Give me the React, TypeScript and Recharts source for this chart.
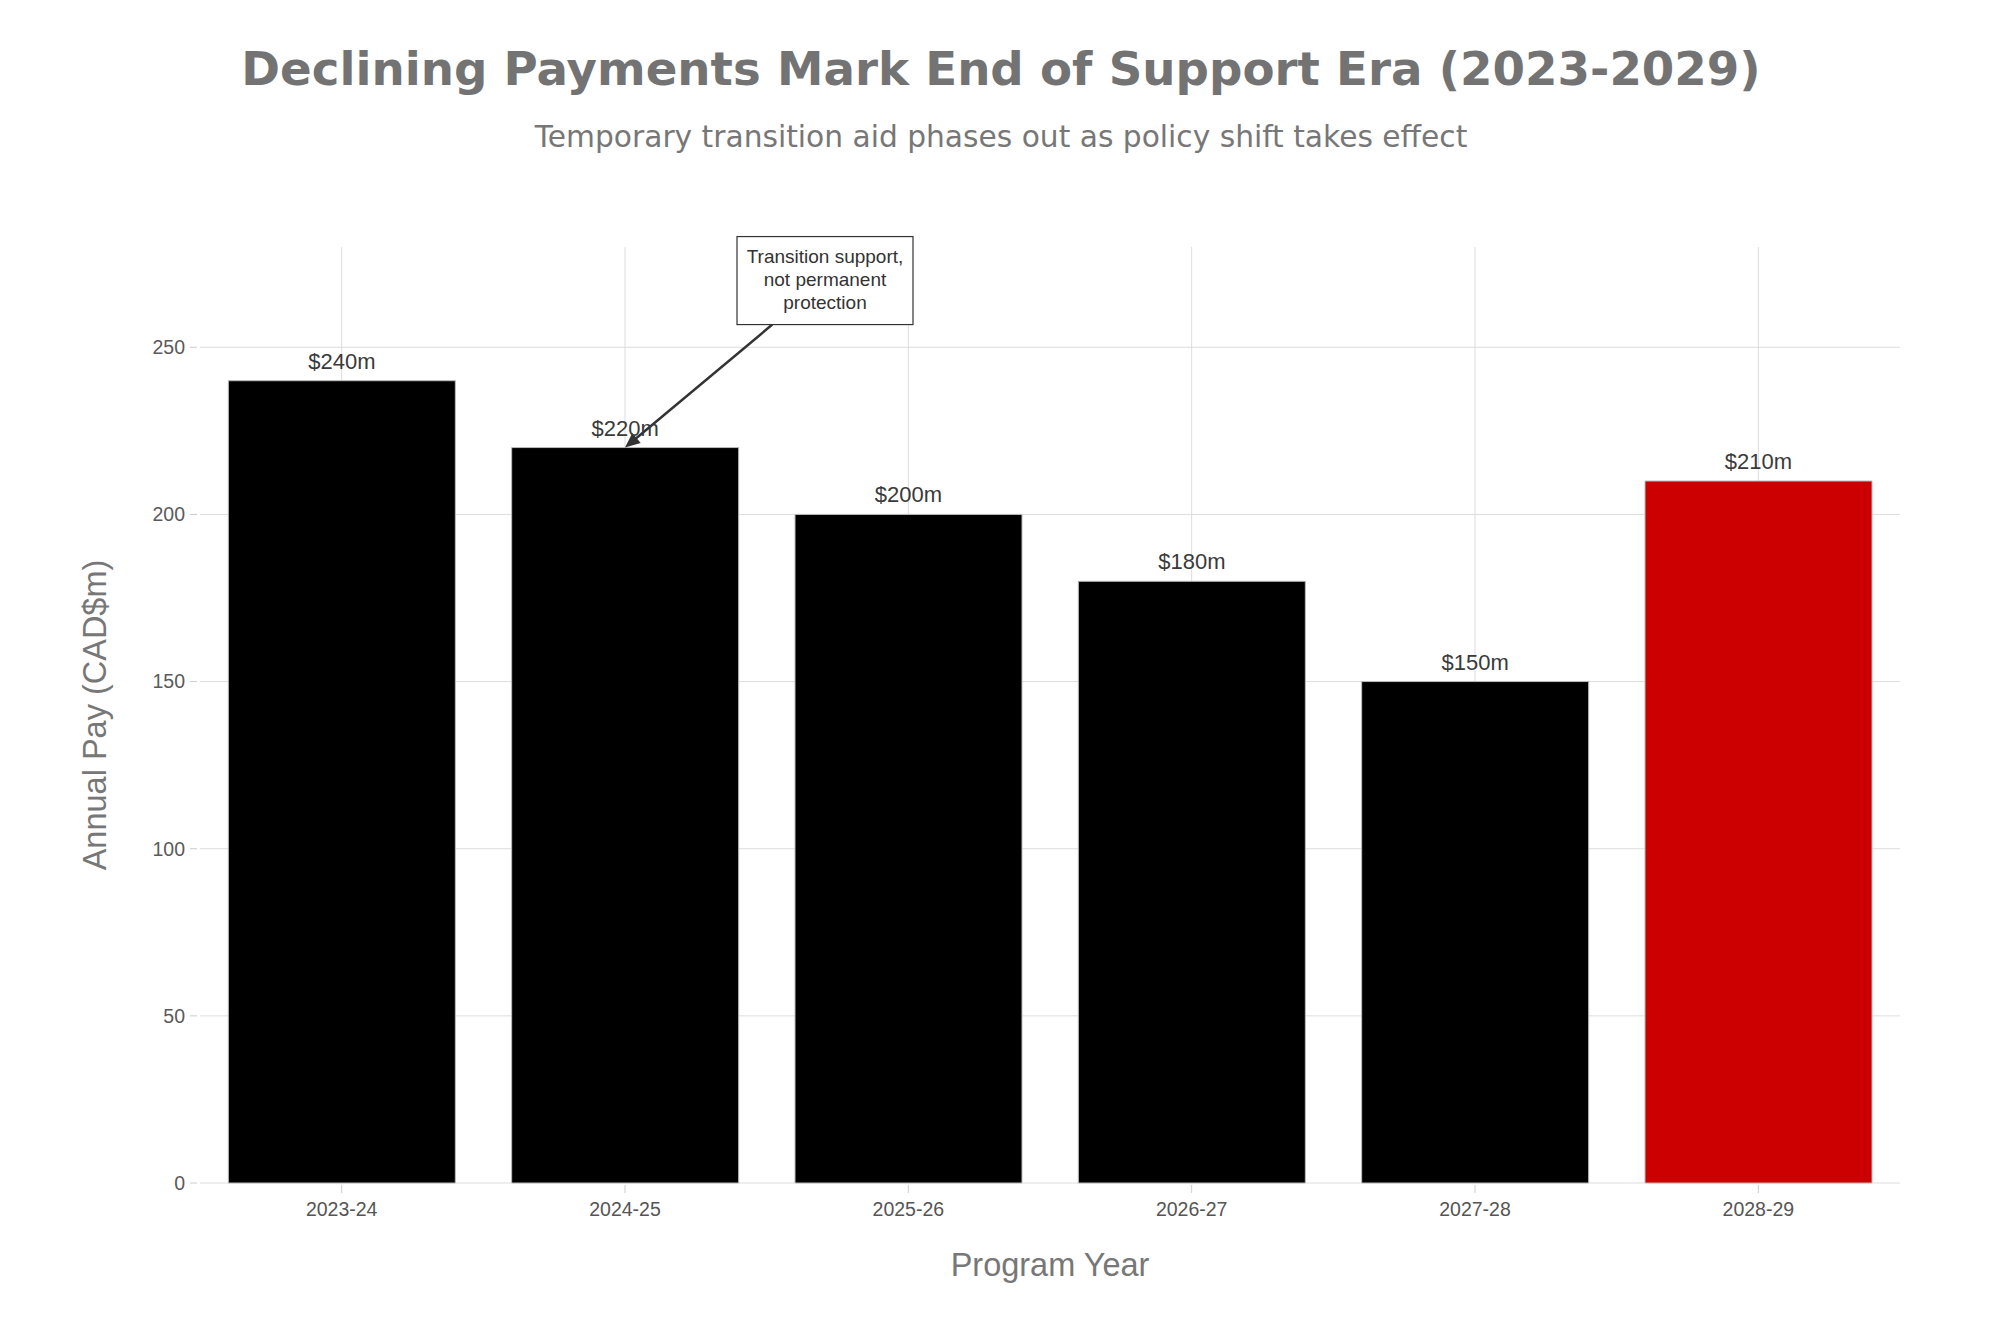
import React from 'react';
import { BarChart, Bar, XAxis, YAxis, CartesianGrid, Cell, LabelList, ReferenceDot } from 'recharts';

const categories = ['2023-24', '2024-25', '2025-26', '2026-27', '2027-28', '2028-29'];
const payments = [240, 220, 200, 180, 150, 210];
const barColors = ['#000000', '#000000', '#000000', '#000000', '#000000', '#cc0000'];
const yTicks = [0, 50, 100, 150, 200, 250];
const yDomain = [0, 280];
const valueLabels = ['$240m', '$220m', '$200m', '$180m', '$150m', '$210m'];
const annotationLines = ['Transition support,', 'not permanent', 'protection'];
const annotationCategory = '2024-25';
const annotationValue = 220;

const titleText = 'Declining Payments Mark End of Support Era (2023-2029)';
const subtitleText = 'Temporary transition aid phases out as policy shift takes effect';
const xTitle = 'Program Year';
const yTitle = 'Annual Pay (CAD$m)';

const data = categories.map((c, i) => ({ category: c, value: payments[i], label: valueLabels[i] }));

const FONT = '"Liberation Sans", Arial, Helvetica, sans-serif';

const YTick = (props: any) => {
  const { x, y, payload } = props;
  return (
    <g>
      <line x1={x - 10} x2={x - 3} y1={y} y2={y} stroke="#cccccc" strokeWidth={1} />
      <text x={x - 15} y={y} dy="0.355em" textAnchor="end" fontSize={19.5} fill="#5a5a5a" fontFamily={FONT}>
        {payload.value}
      </text>
    </g>
  );
};

const XTick = (props: any) => {
  const { x, y, payload } = props;
  return (
    <g>
      <line x1={x} x2={x} y1={y + 2} y2={y + 10} stroke="#cccccc" strokeWidth={1} />
      <text x={x} y={y + 33} textAnchor="middle" fontSize={19.5} fill="#555555" fontFamily={FONT}>
        {payload.value}
      </text>
    </g>
  );
};

const Annotation = (props: any) => {
  const { cx, cy } = props;
  if (cx == null || cy == null) return null;
  const bcx = cx + 200;
  const bcy = cy - 167;
  const hw = 88;
  const hh = 44;
  const dxC = bcx - cx;
  const dyC = bcy - cy;
  const t = (bcy + hh - cy) / dyC;
  const sx = cx + dxC * t;
  const sy = bcy + hh;
  const vx = cx - sx;
  const vy = cy - sy;
  const len = Math.sqrt(vx * vx + vy * vy);
  const ux = vx / len;
  const uy = vy / len;
  const headLen = 15;
  const headW = 6.5;
  const bx = cx - ux * headLen;
  const by = cy - uy * headLen;
  const px = -uy;
  const py = ux;
  return (
    <g>
      <line x1={sx} y1={sy} x2={bx + ux * 2} y2={by + uy * 2} stroke="#333333" strokeWidth={2.5} />
      <polygon
        points={`${cx},${cy} ${bx + px * headW},${by + py * headW} ${bx - px * headW},${by - py * headW}`}
        fill="#333333"
      />
      <rect x={bcx - hw} y={bcy - hh} width={hw * 2} height={hh * 2} fill="#ffffff" stroke="#333333" strokeWidth={1.2} />
      {annotationLines.map((line, i) => (
        <text
          key={i}
          x={bcx}
          y={bcy - 18 + i * 23}
          textAnchor="middle"
          fontSize={19}
          fill="#333333"
          fontFamily={FONT}
        >
          {line}
        </text>
      ))}
    </g>
  );
};

const YTitle = (props: any) => {
  const vb = props.viewBox || {};
  const cy = vb.y + vb.height / 2;
  return (
    <text
      x={106}
      y={cy}
      transform={`rotate(-90 106 ${cy})`}
      textAnchor="middle"
      fontSize={32.5}
      fill="#777777"
      fontFamily={FONT}
    >
      {yTitle}
    </text>
  );
};

const XTitle = (props: any) => {
  const vb = props.viewBox || {};
  const cx = vb.x + vb.width / 2;
  return (
    <text x={cx} y={1276} textAnchor="middle" fontSize={32.5} fill="#777777" fontFamily={FONT}>
      {xTitle}
    </text>
  );
};

const hGen = (p: any) => {
  const ax = p && p.yAxis;
  if (ax && typeof ax.scale === 'function') {
    return yTicks.map((t) => ax.scale(t));
  }
  const o = p.offset;
  return yTicks.map((t) => o.top + o.height * (1 - (t - yDomain[0]) / (yDomain[1] - yDomain[0])));
};

const vGen = (p: any) => {
  const ax = p && p.xAxis;
  if (ax && typeof ax.scale === 'function' && typeof ax.scale.bandwidth === 'function') {
    const bw = ax.scale.bandwidth();
    return categories.map((c) => ax.scale(c) + bw / 2);
  }
  const o = p.offset;
  const band = o.width / categories.length;
  return categories.map((_, i) => o.left + band * (i + 0.5));
};

export default function App() {
  return (
    <div style={{ position: 'absolute', left: 0, top: 0, width: 2000, height: 1333, background: '#ffffff' }}>
      <svg width={2000} height={1333} style={{ position: 'absolute', left: 0, top: 0 }}>
        <text
          x={1001}
          y={85}
          textAnchor="middle"
          fontSize={46.7}
          fontWeight="bold"
          fill="#737373"
          fontFamily='"DejaVu Sans", sans-serif'
        >
          {titleText}
        </text>
        <text
          x={1001}
          y={147}
          textAnchor="middle"
          fontSize={29.7}
          fill="#777777"
          fontFamily='"DejaVu Sans", sans-serif'
        >
          {subtitleText}
        </text>
      </svg>
      <div style={{ position: 'absolute', left: 0, top: 0 }}>
        <BarChart
          width={2000}
          height={1333}
          data={data}
          margin={{ top: 247, right: 100, left: 0, bottom: 0 }}
          barCategoryGap="10%"
        >
          <CartesianGrid
            stroke="#dddddd"
            strokeWidth={1}
            horizontalCoordinatesGenerator={hGen}
            verticalCoordinatesGenerator={vGen}
          />
          <XAxis
            dataKey="category"
            height={150}
            axisLine={false}
            tickLine={false}
            tickSize={0}
            tickMargin={0}
            tick={<XTick />}
            interval={0}
            label={<XTitle />}
          />
          <YAxis
            width={200}
            domain={yDomain}
            ticks={yTicks}
            axisLine={false}
            tickLine={false}
            tickSize={0}
            tickMargin={0}
            tick={<YTick />}
            label={<YTitle />}
          />
          <Bar dataKey="value" isAnimationActive={false} stroke="#bbbbbb" strokeWidth={1}>
            {data.map((d, i) => (
              <Cell key={d.category} fill={barColors[i]} />
            ))}
            <LabelList
              dataKey="label"
              position="top"
              offset={12}
              fontSize={22}
              fill="#3a3a3a"
              fontFamily={FONT}
            />
          </Bar>
          <ReferenceDot
            x={annotationCategory}
            y={annotationValue}
            r={0}
            ifOverflow="visible"
            shape={(p: any) => <Annotation {...p} />}
          />
        </BarChart>
      </div>
    </div>
  );
}
